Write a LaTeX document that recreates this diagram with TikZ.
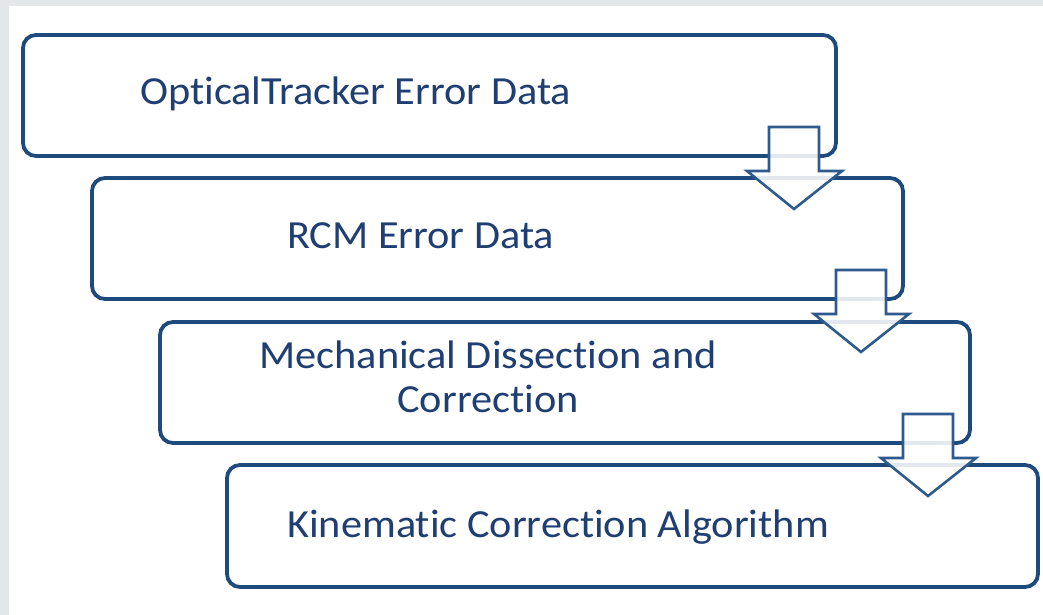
\documentclass[tikz,border=0pt]{standalone}
\usepackage{fontspec}
\setmainfont{Carlito}[FakeStretch=1.062,Ligatures=NoCommon]
\definecolor{boxblue}{HTML}{1F4A7E}
\definecolor{arrblue}{HTML}{2E5A8C}
\definecolor{txtblue}{HTML}{1F3E72}
\definecolor{bggray}{HTML}{E4E7EA}
\begin{document}
\begin{tikzpicture}[x=1bp,y=-1bp,
  stepbox/.style={draw=boxblue,line width=3.8bp,rounded corners=13bp,fill=white},
  blockarrow/.style={draw=arrblue,line width=2.6bp,fill=white,fill opacity=0.88,line join=miter},
  lbl/.style={text=txtblue,font=\fontsize{40}{44}\selectfont,inner sep=0pt}]
\useasboundingbox (0,0) rectangle (1043,615);
\fill[bggray] (0,0) rectangle (1043,615);
\fill[white] (9,6) rectangle (1043,615);
% boxes
\draw[stepbox] (23,35) rectangle (836,156);
\draw[stepbox] (92,178) rectangle (903,299);
\draw[stepbox] (160,322) rectangle (970,443);
\draw[stepbox] (227,465) rectangle (1038,587);
% texts
\node[lbl,anchor=base west] (t1) at (140,105) {OpticalTracker Error Data};
\node[lbl,anchor=base west] (t2) at (287,249) {RCM Error Data};
\node[lbl,anchor=base] (t3a) at (488,368) {Mechanical Dissection and};
\node[lbl,anchor=base] (t3b) at (488,412) {Correction};
\node[lbl,anchor=base west] (t4) at (287,537) {Kinematic Correction Algorithm};
% block arrows
\foreach \dx/\dy in {0/0,67/143,134/287}{
  \draw[blockarrow,shift={(\dx,\dy)}] (769,127) -- (819,127) -- (819,171) -- (842,171)
     -- (794,209) -- (747,171) -- (769,171) -- cycle;
}
\end{tikzpicture}
\end{document}
